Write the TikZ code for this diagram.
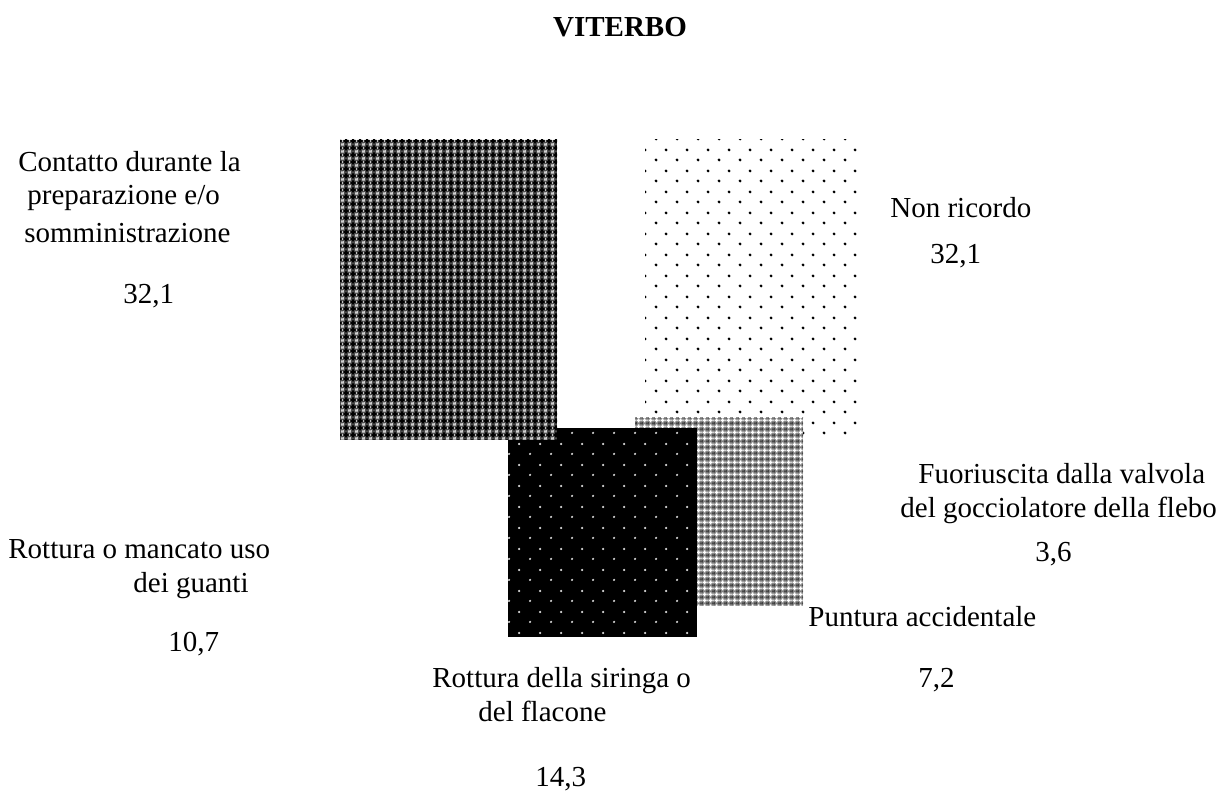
\documentclass[tikz,border=0pt]{standalone}
\usepackage{fontspec}
\setmainfont{Liberation Serif}
\usetikzlibrary{patterns.meta}

\tikzdeclarepattern{
  name=darkweave, type=colored,
  bottom left={(0pt,0pt)}, top right={(3.5pt,3.5pt)},
  tile size={(3.5pt,3.5pt)},
  code={
    \fill[black] (0.35pt,1.2pt) rectangle (3.15pt,2.3pt);
    \fill[black] (1.2pt,0.35pt) rectangle (2.3pt,3.15pt);
    \fill[white] (0pt,0pt) circle[radius=0.6pt];
    \fill[white] (3.5pt,0pt) circle[radius=0.6pt];
    \fill[white] (0pt,3.5pt) circle[radius=0.6pt];
    \fill[white] (3.5pt,3.5pt) circle[radius=0.6pt];
  }
}
\tikzdeclarepattern{
  name=lightweave, type=colored,
  bottom left={(0pt,0pt)}, top right={(3pt,3pt)},
  tile size={(3pt,3pt)},
  code={
    \fill[white] (0.35pt,1.05pt) rectangle (2.65pt,1.95pt);
    \fill[white] (1.05pt,0.35pt) rectangle (1.95pt,2.65pt);
    \fill[black] (0pt,0pt) circle[radius=0.45pt];
    \fill[black] (3pt,0pt) circle[radius=0.45pt];
    \fill[black] (0pt,3pt) circle[radius=0.45pt];
    \fill[black] (3pt,3pt) circle[radius=0.45pt];
  }
}
\tikzdeclarepattern{
  name=blackdots, type=colored,
  bottom left={(0pt,0pt)}, top right={(10.5pt,10.5pt)},
  tile size={(10.5pt,10.5pt)},
  code={
    \fill[black] (2.625pt,2.625pt) circle[radius=0.8pt];
    \fill[black] (7.875pt,7.875pt) circle[radius=0.8pt];
  }
}
\tikzdeclarepattern{
  name=whitedots, type=colored,
  bottom left={(0pt,0pt)}, top right={(10.5pt,10.5pt)},
  tile size={(10.5pt,10.5pt)},
  code={
    \fill[white!85!black] (2.625pt,2.625pt) circle[radius=0.65pt];
    \fill[white!85!black] (7.875pt,7.875pt) circle[radius=0.65pt];
  }
}

\tikzset{
  lbl/.style={anchor=base west, inner sep=0pt, font=\fontsize{14.5}{17}\selectfont},
  title/.style={anchor=base, inner sep=0pt, font=\fontsize{14.5}{17}\selectfont\bfseries}
}

\begin{document}
\begin{tikzpicture}[x=0.5pt, y=-0.5pt]
    \useasboundingbox (0,0) rectangle (1228,795);

    \node[title] (viterbo) at (620,37) {VITERBO};

    % blocks, back to front
    \path[fill=white,    postaction={pattern=blackdots}]  (645,140) rectangle (860,440);
    \path[fill=black!50, postaction={pattern=lightweave}] (635,418) rectangle (803,606);
    \path[fill=black,    postaction={pattern=whitedots}]  (508,428) rectangle (697,637);
    \path[fill=black!70, postaction={pattern=darkweave}]  (340,140) rectangle (557,440);

    \node[lbl] (contatto1) at (18,172)  {Contatto durante la};
    \node[lbl] (contatto2) at (27,205)  {preparazione e/o};
    \node[lbl] (contatto3) at (24,243)  {somministrazione};
    \node[lbl] (contattov) at (123,304) {32,1};

    \node[lbl] (ricordo1) at (890,218) {Non ricordo};
    \node[lbl] (ricordov) at (930,264) {32,1};

    \node[lbl] (valvola1) at (918,484)  {Fuoriuscita dalla valvola};
    \node[lbl] (valvola2) at (900,518)  {del gocciolatore della flebo};
    \node[lbl] (valvolav) at (1035,562) {3,6};

    \node[lbl] (puntura1) at (808,627) {Puntura accidentale};
    \node[lbl] (punturav) at (918,688) {7,2};

    \node[lbl] (guanti1) at (8,559)   {Rottura o mancato uso};
    \node[lbl] (guanti2) at (133,593) {dei guanti};
    \node[lbl] (guantiv) at (168,652) {10,7};

    \node[lbl] (siringa1) at (432,688) {Rottura della siringa o};
    \node[lbl] (siringa2) at (478,722) {del flacone};
    \node[lbl] (siringav) at (535,787) {14,3};
  \end{tikzpicture}
\end{document}
